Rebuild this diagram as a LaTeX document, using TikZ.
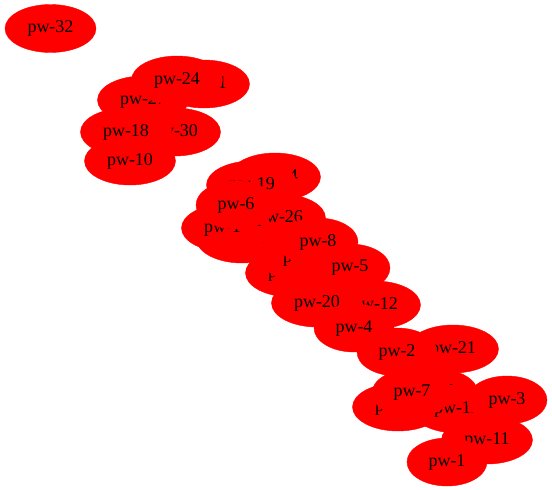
\documentclass[tikz,border=0pt]{standalone}
\usepackage{fontspec}
\setmainfont{Liberation Serif}
\usetikzlibrary{shapes.geometric}

\begin{document}
\begin{tikzpicture}[x=1pt,y=1pt,yscale=-1,xscale=1,
  pw/.style={ellipse,fill=red,draw=red,inner sep=0pt,minimum width=91pt,minimum height=48pt,
    font=\fontsize{18}{20}\selectfont},
  pwshort/.style={pw,minimum width=80pt}]
%set diagram frame: 552 x 490
\useasboundingbox (0,0) rectangle (552,490);

% Top group
\node [pw] (pw32) at (50.5,28.5) {pw-32};
\node [pw] (pw27) at (143,100) {pw-27};
\node [pw] (pw31) at (204,84) {pw-31};
\node [pw] (pw24) at (177,80) {pw-24};
\node [pw] (pw30) at (175,132) {pw-30};
\node [pw] (pw18) at (126,132) {pw-18};
\node [pw] (pw10) at (130,161) {pw-10};

% Middle group (drawn back to front)
\node [pw] (pw14) at (275,177) {pw-14};
\node [pw] (pw19) at (252,185) {pw-19};
\node [pw] (pw22) at (242,239) {pw-22};
\node [pw] (pw16) at (227,228) {pw-16};
\node [pw] (pw26) at (280,218) {pw-26};
\node [pwshort] (pw6) at (236,205) {pw-6};
\node [pw] (pw25) at (291,273) {pw-25};
\node [pw] (pw29) at (306,258) {pw-29};
\node [pwshort] (pw8) at (318,242) {pw-8};
\node [pwshort] (pw5) at (350,268) {pw-5};
\node [pw] (pw12) at (375,305) {pw-12};
\node [pw] (pw20) at (317,303) {pw-20};
\node [pwshort] (pw4) at (354,328) {pw-4};

% Bottom group
\node [pw] (pw21) at (453,349) {pw-21};
\node [pwshort] (pw2) at (397,352) {pw-2};
\node [pw] (pw28) at (432,392) {pw-28};
\node [pw] (pw23) at (398,407) {pw-23};
\node [pw] (pw13) at (457,409) {pw-13};
\node [pwshort] (pw7) at (412,393) {pw-7};
\node [pwshort] (pw3) at (507,400) {pw-3};
\node [pw] (pw11) at (487,440) {pw-11};
\node [pwshort] (pw1) at (447,462) {pw-1};

\end{tikzpicture}
\end{document}
